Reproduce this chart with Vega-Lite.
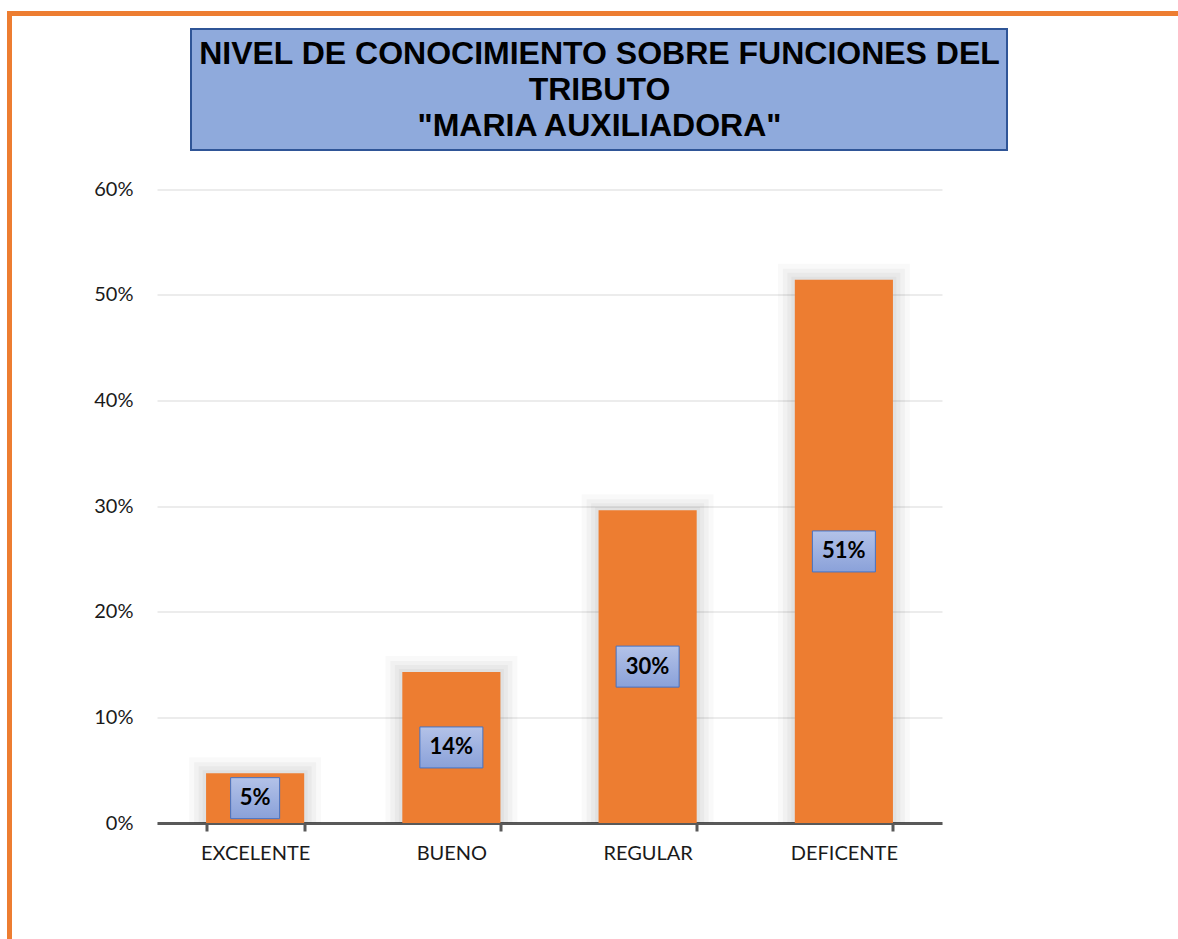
{
  "$schema": "https://vega.github.io/schema/vega-lite/v6.json",
  "autosize": {"type": "none"},
  "width": 1180,
  "height": 936,
  "padding": {"left": 9.5, "top": 13.5, "right": -11.5, "bottom": -10.5},
  "background": "white",
  "config": {"view": {"stroke": "#ED7D31", "strokeWidth": 5, "fill": "white"}},
  "data": {"values": [
    {"nivel": "EXCELENTE", "value": 0.047},
    {"nivel": "BUENO", "value": 0.143},
    {"nivel": "REGULAR", "value": 0.296},
    {"nivel": "DEFICENTE", "value": 0.514}
  ]},
  "resolve": {"scale": {"x": "independent", "y": "independent"}},
  "layer": [
    {
      "encoding": {
        "x": {"field": "nivel", "type": "nominal", "sort": null,
          "scale": {"range": [147.5, 932.5], "paddingInner": 0.5, "paddingOuter": 0.25},
          "axis": {"title": null, "orient": "bottom", "offset": -126.5, "labelAngle": 0,
            "domainColor": "#595959", "domainWidth": 3,
            "tickBand": "extent", "tickSize": 8, "tickWidth": 3, "tickColor": "#595959",
            "labelFont": "Lato", "labelFontSize": 20, "labelColor": "#1a1a1a", "labelPadding": 12, "grid": false}},
        "y": {"field": "value", "type": "quantitative",
          "scale": {"domain": [0, 0.6], "range": [809.5, 175.5], "nice": false},
          "axis": {"title": null, "orient": "left", "offset": -147.5, "values": [0, 0.1, 0.2, 0.3, 0.4, 0.5, 0.6],
            "format": ".0%", "domain": false, "ticks": false, "labelPadding": 24,
            "labelFont": "Lato", "labelFontSize": 20, "labelColor": "#1a1a1a",
            "grid": true, "gridColor": "#d9d9d9", "gridWidth": 1}},
        "y2": {"datum": 0}
      },
      "layer": [
        {"mark": {"type": "bar", "color": "#000", "opacity": 0.025, "width": 132, "yOffset": -16, "y2Offset": 0}},
        {"mark": {"type": "bar", "color": "#000", "opacity": 0.03, "width": 122, "yOffset": -11, "y2Offset": 0}},
        {"mark": {"type": "bar", "color": "#000", "opacity": 0.03, "width": 113, "yOffset": -7, "y2Offset": 0}},
        {"mark": {"type": "bar", "color": "#000", "opacity": 0.03, "width": 105, "yOffset": -3, "y2Offset": 0}},
        {"mark": {"type": "bar", "color": "#ED7D31", "width": {"band": 1}}}
      ]
    },
    {
      "encoding": {
        "x": {"field": "nivel", "type": "nominal", "sort": null,
          "scale": {"range": [147.5, 932.5], "paddingInner": 0.5, "paddingOuter": 0.25}, "axis": null},
        "y": {"field": "value", "type": "quantitative",
          "scale": {"domain": [0, 1.2], "range": [809.5, 175.5], "nice": false}, "axis": null}
      },
      "layer": [
        {
          "mark": {"type": "point", "filled": true, "size": 2500, "opacity": 1,
            "stroke": "#4472c4", "strokeWidth": 1,
            "fill": {"gradient": "linear", "x1": 0, "y1": 0, "x2": 0, "y2": 1,
              "stops": [{"offset": 0, "color": "#b3c2e8"}, {"offset": 1, "color": "#8aa1d9"}]}},
          "encoding": {
            "shape": {"condition": {"test": "datum.value < 0.1", "value": "M-0.98,-0.82H0.98V0.82H-0.98Z"},
              "value": "M-1.26,-0.82H1.26V0.82H-1.26Z"}
          }
        },
        {
          "mark": {"type": "text", "font": "Lato", "fontWeight": "bold", "fontSize": 22, "color": "#000", "baseline": "middle", "align": "center"},
          "encoding": {"text": {"field": "value", "type": "quantitative", "format": ".0%"}}
        }
      ]
    },
    {
      "data": {"values": [{"box": "title"}]},
      "mark": {"type": "rect", "fill": "#8faadc", "stroke": "#2f5597", "strokeWidth": 2},
      "encoding": {
        "x": {"datum": 0, "type": "quantitative", "scale": {"domain": [0, 1], "range": [181.5, 997.5]}, "axis": null},
        "x2": {"datum": 1},
        "y": {"datum": 0, "type": "quantitative", "scale": {"domain": [0, 1], "range": [15.5, 136.5]}, "axis": null},
        "y2": {"datum": 1}
      }
    },
    {
      "data": {"values": [
        {"n": 1, "line": "NIVEL DE CONOCIMIENTO SOBRE FUNCIONES DEL"},
        {"n": 2, "line": "TRIBUTO"},
        {"n": 3, "line": "\"MARIA AUXILIADORA\""}
      ]},
      "mark": {"type": "text", "font": "Liberation Sans", "fontWeight": "bold", "fontSize": 32, "color": "#000", "baseline": "middle", "align": "center"},
      "encoding": {
        "y": {"field": "n", "type": "ordinal", "scale": {"type": "point", "domain": [1, 2, 3], "range": [40, 112], "padding": 0}, "axis": null},
        "text": {"field": "line", "type": "nominal"}
      }
    }
  ]
}
